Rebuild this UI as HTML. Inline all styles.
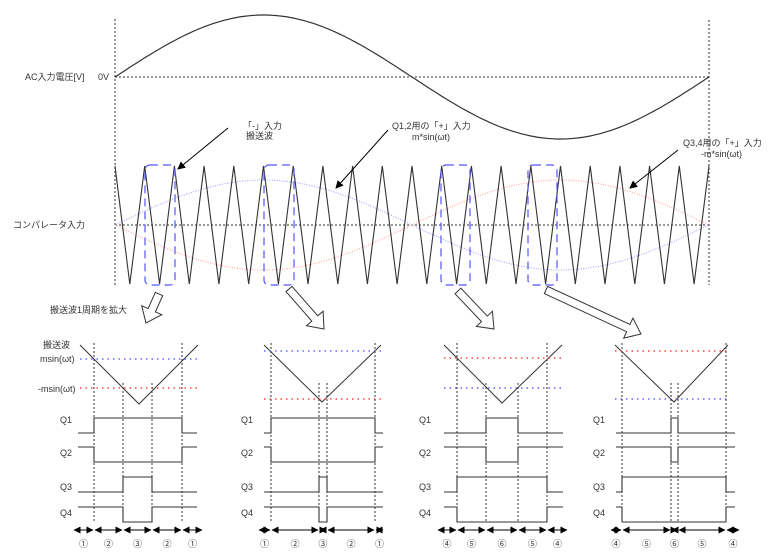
<!DOCTYPE html>
<html><head><meta charset="utf-8"><style>
body{margin:0;background:#fff}
svg{display:block}
text{font-family:"Liberation Sans","Noto Sans CJK JP",sans-serif;font-size:9px;fill:#333}
</style></head><body>
<svg id="s" width="768" height="554" viewBox="0 0 768 554" xmlns="http://www.w3.org/2000/svg">
<defs>
<marker id="ah" markerWidth="8" markerHeight="8" refX="7" refY="4" orient="auto" markerUnits="userSpaceOnUse"><path d="M0,0 L8,4 L0,8 z" fill="#000"/></marker>
<marker id="a2" markerWidth="7" markerHeight="7" refX="6.5" refY="3.5" orient="auto-start-reverse" markerUnits="userSpaceOnUse"><path d="M0,0 L7,3.5 L0,7 z" fill="#000"/></marker>
</defs>
<g id="g"></g>
<text x="25" y="80">AC入力電圧[V]</text>
<text x="98" y="80">0V</text>
<text x="13" y="228">コンパレータ入力</text>
<text x="243" y="129">「-」入力</text>
<text x="246" y="139">搬送波</text>
<text x="392" y="129">Q1,2用の「+」入力</text>
<text x="412" y="140">m*sin(ωt)</text>
<text x="683" y="146">Q3,4用の「+」入力</text>
<text x="701" y="157">-m*sin(ωt)</text>
<text x="50" y="313">搬送波1周期を拡大</text>
<text x="43" y="348">搬送波</text>
<text x="40" y="362">msin(ωt)</text>
<text x="38" y="392">-msin(ωt)</text>
<g id="lbl"></g>
</svg>
<script>
var g=document.getElementById('g'),L=document.getElementById('lbl'),NS='http://www.w3.org/2000/svg';
function el(t,a,p){var e=document.createElementNS(NS,t);for(var k in a)e.setAttribute(k,a[k]);(p||g).appendChild(e);return e;}
function line(x1,y1,x2,y2,st){return el('line',Object.assign({x1:x1,y1:y1,x2:x2,y2:y2,stroke:'#000','stroke-width':1},st||{}));}
var dot={stroke:'#333','stroke-dasharray':'2,2','stroke-width':1};
var p='';for(var i=0;i<=200;i++){var x=115+594*i/200;p+=(i?'L':'M')+x.toFixed(1)+','+(77-62*Math.sin(2*Math.PI*i/200)).toFixed(1);}
el('path',{d:p,fill:'none',stroke:'#333','stroke-width':1.2});
line(115,77,709,77,dot);line(115,19,115,285,dot);line(709,20,709,285,dot);
line(115,225,709,225,dot);
var pb='',pr='';for(i=0;i<=200;i++){x=115+594*i/200;var s=45*Math.sin(2*Math.PI*i/200);pb+=(i?'L':'M')+x.toFixed(1)+','+(225-s).toFixed(1);pr+=(i?'L':'M')+x.toFixed(1)+','+(225+s).toFixed(1);}
el('path',{d:pb,fill:'none',stroke:'#99f','stroke-width':1,'stroke-dasharray':'1,1.5'});
el('path',{d:pr,fill:'none',stroke:'#f99','stroke-width':1,'stroke-dasharray':'1,1.5'});
var per=594/20,t='';for(i=0;i<=40;i++){t+=(i?'L':'M')+(115+per*i/2).toFixed(1)+','+(i%2?284:166);}
el('path',{d:t,fill:'none',stroke:'#333','stroke-width':1.1});
[[145,175],[264,294],[441,470],[528,557]].forEach(function(b){el('rect',{x:b[0],y:165,width:b[1]-b[0],height:120,rx:5,fill:'none',stroke:'#55f','stroke-width':1.2,'stroke-dasharray':'8,5'});});
el('line',{x1:228,y1:128,x2:178,y2:169,stroke:'#000','marker-end':'url(#ah)'});
el('line',{x1:388,y1:130,x2:336,y2:188,stroke:'#000','marker-end':'url(#ah)'});
el('line',{x1:678,y1:150,x2:630,y2:188,stroke:'#000','marker-end':'url(#ah)'});
function big(x1,y1,x2,y2){var dx=x2-x1,dy=y2-y1,l=Math.hypot(dx,dy),ux=dx/l,uy=dy/l,nx=-uy,ny=ux,hl=14,sw=4,hw=11;
var pts=[[0,sw],[l-hl,sw],[l-hl,hw],[l,0],[l-hl,-hw],[l-hl,-sw],[0,-sw]].map(function(q){return (x1+ux*q[0]+nx*q[1]).toFixed(1)+','+(y1+uy*q[0]+ny*q[1]).toFixed(1)}).join(' ');
el('polygon',{points:pts,fill:'#fff',stroke:'#333','stroke-width':1});}
big(159,294,146,323);big(289,289,324,329);big(458,291,494,329);big(546,290,641,334);
function panel(o){
 el('polyline',{points:o.t0+',345 '+o.tm+','+o.tb+' '+o.t1+',345',fill:'none',stroke:'#333','stroke-width':1});
 el('line',{x1:o.t0,y1:o.yb,x2:o.t1,y2:o.yb,stroke:'#66f','stroke-width':1.5,'stroke-dasharray':'1.5,4'});
 el('line',{x1:o.t0,y1:o.yr,x2:o.t1,y2:o.yr,stroke:'#f44','stroke-width':1.5,'stroke-dasharray':'1.5,4'});
 var v=o.v;line(v[0],343,v[0],522,dot);line(v[3],343,v[3],522,dot);line(v[1],383,v[1],522,dot);line(v[2],383,v[2],522,dot);
 function sig(y0,pts,wide){var a=o.s0,b=o.s1,d;var hi=y0-15;
  if(wide){d='M'+a+','+y0+'L'+v[0]+','+y0+'L'+v[0]+','+hi+'L'+v[3]+','+hi+'L'+v[3]+','+y0+'L'+b+','+y0;}
  else{d='M'+a+','+y0+'L'+v[1]+','+y0+'L'+v[1]+','+hi+'L'+v[2]+','+hi+'L'+v[2]+','+y0+'L'+b+','+y0;}
  el('path',{d:d,fill:'none',stroke:'#333','stroke-width':1.1});}
 function siginv(y0,wide){var a=o.s0,b=o.s1,lo=y0+15,d;
  if(wide)d='M'+a+','+y0+'L'+v[0]+','+y0+'L'+v[0]+','+lo+'L'+v[3]+','+lo+'L'+v[3]+','+y0+'L'+b+','+y0;
  else d='M'+a+','+y0+'L'+v[1]+','+y0+'L'+v[1]+','+lo+'L'+v[2]+','+lo+'L'+v[2]+','+y0+'L'+b+','+y0;
  el('path',{d:d,fill:'none',stroke:'#333','stroke-width':1.1});}
 sig(433,0,o.q12w);siginv(447,o.q12w);sig(492,0,!o.q12w);siginv(507,!o.q12w);
 var b=[o.a0,v[0],v[1],v[2],v[3],o.a1];
 for(var k=0;k<5;k++)el('line',{x1:b[k]+1,y1:530,x2:b[k+1]-1,y2:530,stroke:'#000','stroke-width':1,'marker-start':'url(#a2)','marker-end':'url(#a2)'});
 [['Q1',423],['Q2',456],['Q3',490],['Q4',516]].forEach(function(q){var e=el('text',{x:o.lx,y:q[1]},L);e.textContent=q[0];});
 for(k=0;k<5;k++){var e=el('text',{x:(b[k]+b[k+1])/2,y:547,'text-anchor':'middle'},L);e.textContent=o.n[k];}
}
panel({t0:80,tm:139,tb:404,t1:198,yb:359,yr:388,v:[94,123,152,182],s0:78,s1:197,q12w:true,a0:73,a1:203,lx:60,n:['①','②','③','②','①']});
panel({t0:264,tm:322,tb:402,t1:381,yb:351,yr:399,v:[271,319,327,375],s0:264,s1:383,q12w:true,a0:258,a1:384,lx:241,n:['①','②','③','②','①']});
panel({t0:444,tm:502,tb:403,t1:562,yb:388,yr:358,v:[457,486,518,547],s0:444,s1:563,q12w:false,a0:437,a1:568,lx:419,n:['④','⑤','⑥','⑤','④']});
panel({t0:615,tm:674,tb:402,t1:728,yb:399,yr:351,v:[622,671,678,726],s0:616,s1:735,q12w:false,a0:610,a1:740,lx:593,n:['④','⑤','⑥','⑤','④']});
</script>
</body></html>
